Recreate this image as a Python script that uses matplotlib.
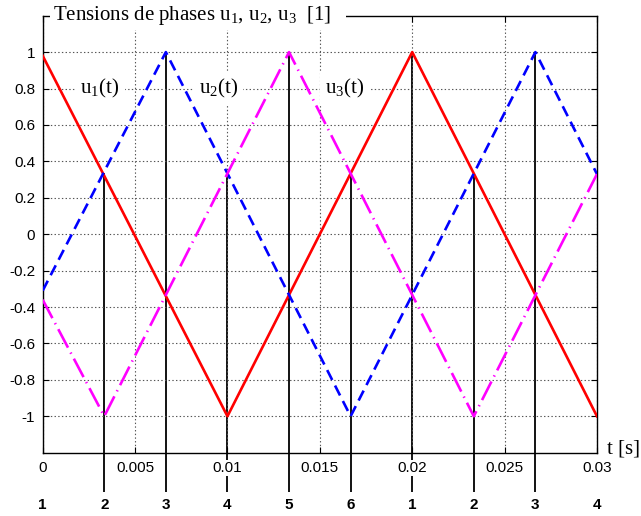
import numpy as np
import matplotlib
matplotlib.use("Agg")
import matplotlib.pyplot as plt

plt.rcParams['axes.unicode_minus'] = False
plt.rcParams['lines.scale_dashes'] = False
plt.rcParams['mathtext.fontset'] = 'custom'
plt.rcParams['mathtext.rm'] = 'Liberation Serif'

# triangle vertices
t_u1 = [0, 0.01, 0.02, 0.03]
u1 = [0.98, -1, 1, -1]
t_u2 = [0, 0.02/3, 0.05/3, 0.08/3, 0.03]
u2 = [-0.31, 1, -1, 1, 0.33]
t_u3 = [0, 0.01/3, 0.04/3, 0.07/3, 0.03]
u3 = [-0.36, -1, 1, -1, 0.33]

# commutation instants and the top of each marker line
t_sw = [0.01/3, 0.02/3, 0.01, 0.04/3, 0.05/3, 0.02, 0.07/3, 0.08/3]
top_sw = [1/3, 1, 1/3, 1, 1/3, 1, 1/3, 1]
t_num = [0, 0.01/3, 0.02/3, 0.01, 0.04/3, 0.05/3, 0.02, 0.07/3, 0.08/3, 0.03]
num_labels = ['1', '2', '3', '4', '5', '6', '1', '2', '3', '4']

xticks = [0, 0.005, 0.01, 0.015, 0.02, 0.025, 0.03]
xtick_labels = ['0', '0.005', '0.01', '0.015', '0.02', '0.025', '0.03']
yticks = [-1, -0.8, -0.6, -0.4, -0.2, 0, 0.2, 0.4, 0.6, 0.8, 1]
ytick_labels = ['-1', '-0.8', '-0.6', '-0.4', '-0.2', '0', '0.2', '0.4', '0.6', '0.8', '1']

fig = plt.figure(figsize=(6.41, 5.16), dpi=100)
ax = fig.add_axes([0.0666, 0.1227, 0.8647, 0.8469])

ax.plot(t_u1, u1, color='red', lw=1.9, zorder=3)
ax.plot(t_u2, u2, color='blue', lw=1.9, dashes=(8, 4.5), zorder=3)
ax.plot(t_u3, u3, color='magenta', lw=1.9, dashes=(15, 4, 1, 4), zorder=3)

ax.vlines(t_sw, -1.414, top_sw, colors='black', lw=1.3, clip_on=False, zorder=1)

ax.set_xlim(0, 0.03)
ax.set_ylim(-1.2, 1.2)
ax.set_xticks(xticks)
ax.set_xticklabels(xtick_labels, fontsize=11, family='Liberation Sans')
ax.set_yticks(yticks)
ax.set_yticklabels(ytick_labels, fontsize=11, family='Liberation Sans')
ax.tick_params(direction='in', top=True, right=True, length=4, width=0.8)
ax.tick_params(axis='x', pad=6)
ax.tick_params(axis='y', pad=5.5)
for lbl in ax.get_xticklabels():
    lbl.set_bbox(dict(facecolor='white', edgecolor='none', pad=1))
ax.grid(True, linestyle=':', color='#555555', lw=0.8)
for s in ax.spines.values():
    s.set_linewidth(1.0)

serif = 'Liberation Serif'
ax.text(0.0186, 1.0, 'Tensions de phases u$_\\mathrm{1}$, u$_\\mathrm{2}$, u$_\\mathrm{3}$  [1]   ',
        transform=ax.transAxes, ha='left', va='center', fontsize=15, family=serif,
        bbox=dict(facecolor='white', edgecolor='none', pad=2), zorder=5)

for x, lab in zip([0.0031, 0.0095, 0.01636], ['u$_\\mathrm{1}$(t)', 'u$_\\mathrm{2}$(t)', 'u$_\\mathrm{3}$(t)']):
    ax.text(x, 0.8, lab, ha='center', va='center', fontsize=15, family=serif,
            bbox=dict(facecolor='white', edgecolor='none', pad=4), zorder=4)

ax.text(1.018, -1.18, 't [s]', transform=ax.get_yaxis_transform(), ha='left', va='center',
        fontsize=15, family=serif)

for x, lab in zip(t_num, num_labels):
    ax.text(x, -1.49, lab, ha='center', va='center', fontsize=11, fontweight='bold',
            family='Liberation Sans')

fig.savefig('out.png', dpi=100)
